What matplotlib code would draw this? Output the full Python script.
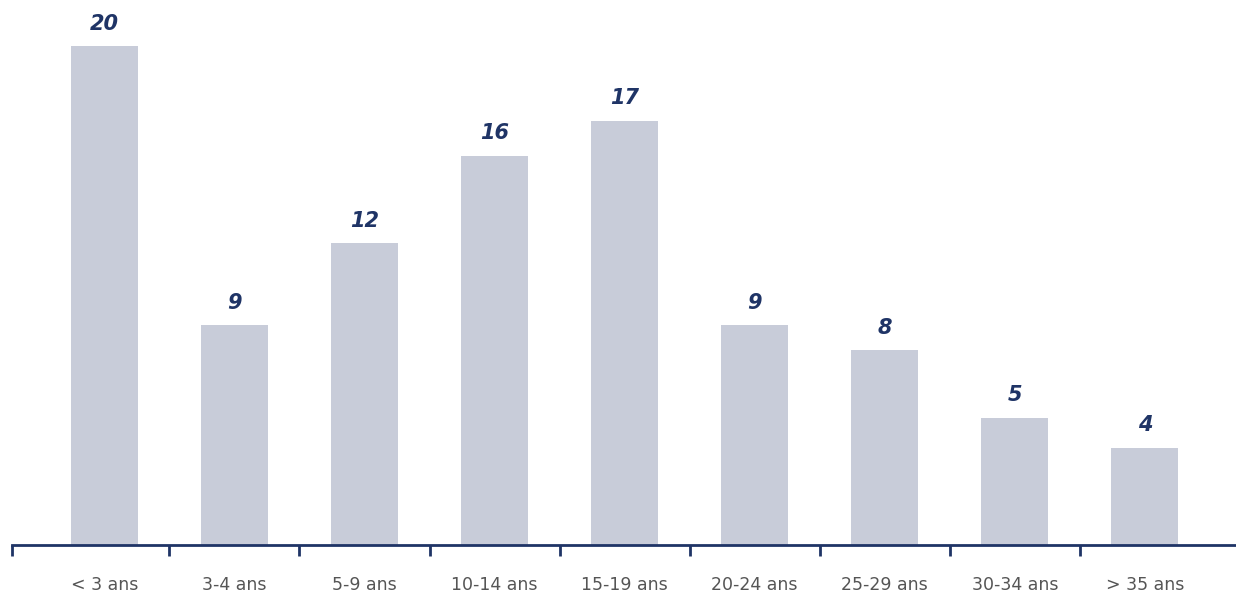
import numpy as np
import matplotlib.pyplot as plt

categories = ['< 3 ans', '3-4 ans', '5-9 ans', '10-14 ans', '15-19 ans',
              '20-24 ans', '25-29 ans', '30-34 ans', '> 35 ans']
values = [20.0, 8.8, 12.1, 15.6, 17.0, 8.8, 7.8, 5.1, 3.9]
labels = ['20', '9', '12', '16', '17', '9', '8', '5', '4']

navy = '#1f3466'
barcol = '#c8ccd9'

fig = plt.figure(figsize=(12.36, 5.96), dpi=100)
ax = fig.add_axes([12 / 1236, 51 / 596, 1 - 12 / 1236, 1 - 51 / 596])

x = np.arange(len(categories))
bars = ax.bar(x, values, width=0.515, color=barcol)

for b, lab in zip(bars, labels):
    ax.annotate(lab, (b.get_x() + b.get_width() / 2, b.get_height()),
                xytext=(0, 9), textcoords='offset points',
                ha='center', va='bottom', fontsize=15, style='italic',
                fontweight='semibold', color=navy)

ax.set_xlim(-0.71, 8.70)
ax.set_ylim(0, 545 / 24.95)

for s in ['top', 'right', 'left']:
    ax.spines[s].set_visible(False)
ax.spines['bottom'].set_color(navy)
ax.spines['bottom'].set_linewidth(2)

ax.set_yticks([])
ax.set_xticks(x)
ax.set_xticklabels(categories, fontsize=12.5, color='#555555')
ax.tick_params(axis='x', which='major', length=0, pad=22)
ax.set_xticks([-0.71] + list(x[:-1] + 0.5), minor=True)
ax.tick_params(axis='x', which='minor', length=8, width=2, color=navy)

fig.savefig('out.png', dpi=100)
